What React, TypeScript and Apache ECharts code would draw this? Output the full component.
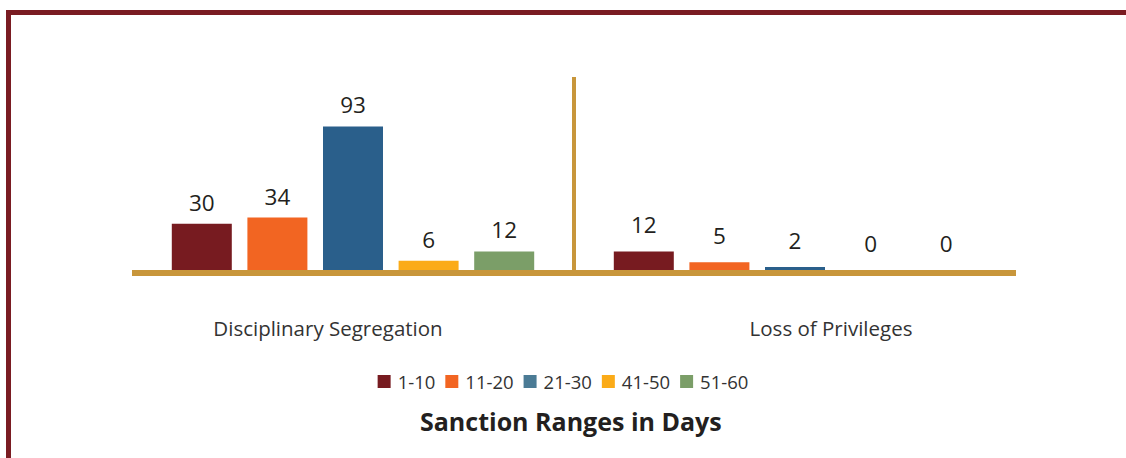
import React, { useEffect, useRef } from "react";
import * as echarts from "echarts";

const categories = ["Disciplinary Segregation", "Loss of Privileges"];
const rangeNames = ["1-10", "11-20", "21-30", "41-50", "51-60"];
const segregationValues = [30, 34, 93, 6, 12];
const privilegesValues = [12, 5, 2, 0, 0];
const titleText = "Sanction Ranges in Days";

const colors = ["#771b20", "#f26522", "#2a5f8b", "#fbab18", "#7b9e68"];
const legendColors = ["#771b20", "#f26522", "#4b7b95", "#fbab18", "#7b9e68"];
const gold = "#c8963b";
const FONT = "'Open Sans', 'Noto Sans', sans-serif";

export default function App() {
  const ref = useRef<HTMLDivElement>(null);
  useEffect(() => {
    if (!ref.current) return;
    const chart = echarts.init(ref.current, null, { renderer: "svg" });
    const series = rangeNames.map((name, i) => ({
      name,
      type: "bar",
      barWidth: 60,
      barGap: "26%",
      itemStyle: { color: colors[i] },
      label: {
        show: true,
        position: "top",
        fontSize: 22.5,
        color: "#231f20",
        fontFamily: FONT,
      },
      data: [
        { value: segregationValues[i], label: { distance: 10 } },
        { value: privilegesValues[i], label: { distance: 15 } },
      ],
    }));
    chart.setOption({
      animation: false,
      backgroundColor: "#ffffff",
      title: {
        text: titleText,
        left: 415,
        top: 403,
        textStyle: { fontSize: 25, fontWeight: "bold", color: "#231f20", fontFamily: FONT },
      },
      legend: {
        data: rangeNames.map((n, i) => ({ name: n, itemStyle: { color: legendColors[i] } })),
        left: "center",
        top: 367,
        itemWidth: 13,
        itemHeight: 13,
        itemGap: 10,
        icon: "rect",
        textStyle: { fontSize: 18.5, color: "#333333", fontFamily: FONT, padding: [0, 0, 0, 2] },
      },
      grid: { left: 132, width: 884, top: 77, height: 193, containLabel: false },
      xAxis: {
        type: "category",
        data: categories,
        offset: 3,
        axisLine: { show: true, onZero: false, lineStyle: { color: gold, width: 6, cap: "butt" } },
        axisTick: { show: false },
        splitLine: {
          show: true,
          showMinLine: false,
          showMaxLine: false,
          lineStyle: { color: gold, width: 4 },
        },
        axisLabel: {
          margin: 44,
          fontSize: 20.5,
          color: "#333333",
          fontFamily: FONT,
          formatter: (v: string) => (v === categories[0] ? "{a|" + v + "}" : "{b|" + v + "}"),
          rich: {
            a: { fontSize: 20.5, color: "#333333", fontFamily: FONT, padding: [0, 50, 0, 0] },
            b: { fontSize: 20.5, color: "#333333", fontFamily: FONT, padding: [0, 0, 0, 72] },
          },
        },
      },
      yAxis: {
        type: "value",
        min: 0,
        max: 125,
        show: false,
        splitLine: { show: false },
      },
      series,
    });
    return () => chart.dispose();
  }, []);
  return (
    <div style={{ position: "fixed", left: 0, top: 0, width: 1126, height: 458, background: "#fff" }}>
      <div ref={ref} style={{ position: "absolute", left: 0, top: 0, width: 1126, height: 458 }} />
      <div
        style={{
          position: "absolute",
          left: 6,
          top: 10,
          width: 1126,
          height: 458,
          borderTop: "5px solid #7a1c22",
          borderLeft: "5px solid #7a1c22",
          boxSizing: "border-box",
          pointerEvents: "none",
        }}
      />
    </div>
  );
}
